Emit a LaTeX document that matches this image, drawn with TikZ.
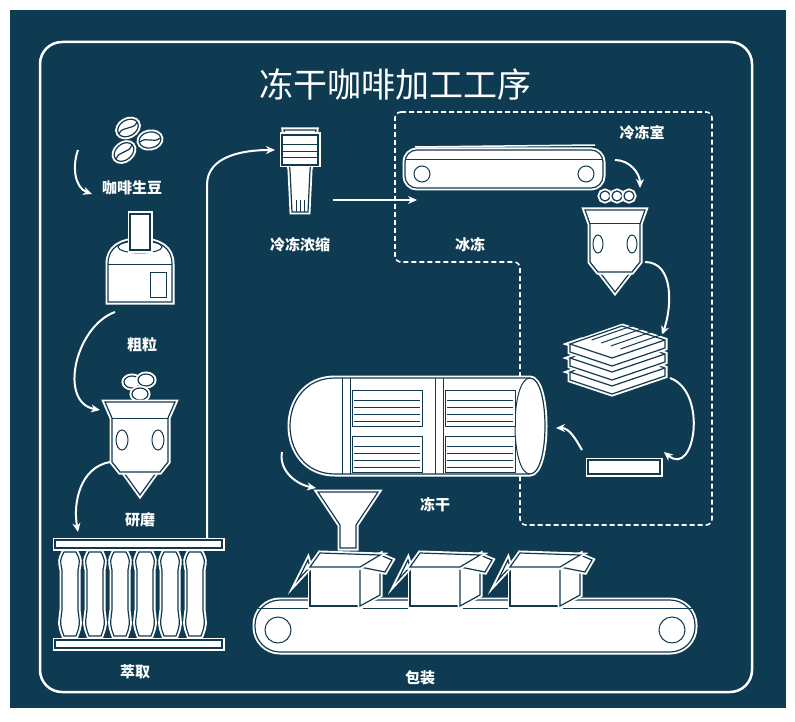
\documentclass[tikz,border=0pt]{standalone}
\usepackage{fontspec}
\setmainfont{Noto Sans CJK SC}
\usetikzlibrary{arrows.meta}
\definecolor{panel}{HTML}{0F3B52}
\definecolor{ink}{HTML}{123A4E}
\tikzset{
  lbl/.style={text=white, font=\fontsize{15}{15}\selectfont\bfseries},
  part/.style={fill=white, draw=ink, line width=1.2pt,
    preaction={draw=white, line width=5pt}},
  flow/.style={draw=white, line width=2pt, -{Stealth[length=9pt,width=8pt]}},
  zone/.style={draw=white, line width=1.6pt, dash pattern=on 5pt off 3pt},
  groove/.style={draw=ink, line width=1pt}
}
\begin{document}
\begin{tikzpicture}[x=1pt,y=-1pt]
\useasboundingbox (0,0) rectangle (795,722);
\fill[white] (0,0) rectangle (795,722);
\fill[panel] (10,10) rectangle (786,708);
\draw[white, line width=2.5pt, rounded corners=22pt] (40,42) rectangle (752,692);
\node[text=white, font=\fontsize{34}{34}\selectfont] (title) at (395,85) {冻干咖啡加工工序};
% coffee beans
\foreach \bx/\by/\ang in {128/128/30, 150/140/10, 124/152/40}
  \draw[part, rotate around={\ang:(\bx,\by)}] (\bx,\by) ellipse (11 and 8)
    (\bx-10,\by) .. controls (\bx-3,\by-4) and (\bx+3,\by+4) .. (\bx+10,\by);
\node[lbl] (beans) at (132,188) {咖啡生豆};
\coordinate (b1) at (78,150); \coordinate (b2) at (92,194);
\draw[flow] (b1) to[out=250,in=160] (b2);
% roaster
\draw[part] (108,302) -- (108,264) .. controls (108,248) and (120,240) .. (140,240)
  .. controls (160,240) and (172,248) .. (172,264) -- (172,302) -- cycle;
\draw[groove] (108,264) -- (172,264);
\draw[groove] (140,247) ellipse (22 and 6);
\draw[part] (130,214) rectangle (150,250);
\draw[groove] (150,272) rectangle (166,297);
\node[lbl] (rough) at (142,345) {粗粒};
\coordinate (r1) at (115,312); \coordinate (r2) at (100,410);
\draw[flow] (r1) to[out=200,in=170,looseness=1.1] (r2);
% grinder
\foreach \bx/\by in {132/382, 146/380, 140/394}
  \draw[part] (\bx,\by) ellipse (8 and 6);
\draw[part] (122,470) -- (140,495) -- (158,470) -- cycle;
\draw[part] (105,402) -- (175,402) -- (168,418) -- (168,462) -- (160,472) -- (120,472) -- (112,462) -- (112,418) -- cycle;
\draw[groove] (112,418) -- (168,418);
\draw[groove] (122,440) ellipse (6 and 10) (158,440) ellipse (6 and 10);
\node[lbl] (grind) at (140,520) {研磨};
\coordinate (g1) at (110,462); \coordinate (g2) at (78,532);
\draw[flow] (g1) to[out=190,in=100] (g2);
% extraction
\draw[part] (55,540) rectangle (222,548);
\draw[part] (55,640) rectangle (222,648);
\foreach \cx in {70,95,120,145,170,195}
  \draw[part] (\cx-6,552) .. controls (\cx-10,560) .. (\cx-8,570) -- (\cx-8,610)
    .. controls (\cx-10,625) .. (\cx-6,636) -- (\cx+6,636) .. controls (\cx+10,625) .. (\cx+8,610)
    -- (\cx+8,570) .. controls (\cx+10,560) .. (\cx+6,552) -- cycle;
\node[lbl] (extract) at (135,672) {萃取};
\coordinate (e1) at (207,538); \coordinate (e2) at (275,150);
\draw[flow] (e1) -- (207,185) to[out=90,in=180] (e2);
% concentrator
\draw[part] (290,170) -- (284,130) -- (316,130) -- (310,170) -- (308,212) -- (292,212) -- cycle;
\draw[part] (282,135) rectangle (318,165);
\draw[groove] (282,145) -- (318,145) (282,152) -- (318,152) (282,158) -- (318,158);
\draw[groove] (296,200) -- (296,212) (300,200) -- (300,212) (304,200) -- (304,212);
\node[lbl] (conc) at (300,245) {冷冻浓缩};
\coordinate (c1) at (333,200); \coordinate (c2) at (417,200);
\draw[flow] (c1) -- (c2);
% freezing zone
\draw[zone, rounded corners=6pt] (395,112) -- (712,112) -- (712,525) -- (520,525) -- (520,262) -- (395,262) -- cycle;
\node[lbl] (room) at (642,133) {冷冻室};
\node[lbl] (freeze) at (470,245) {冰冻};
\draw[part, rounded corners=12pt] (405,150) rectangle (603,188);
\draw[groove] (405,160) -- (603,160);
\draw[groove] (422,174) circle (8) (586,174) circle (8);
\draw[white, line width=1.5pt] (415,147) -- (595,145);
% second grinder
\foreach \bx in {605,617,629}
  \draw[part] (\bx,196) circle (5);
\draw[part] (598,270) -- (615,292) -- (632,270) -- cycle;
\draw[part] (585,210) -- (645,210) -- (640,224) -- (640,262) -- (632,272) -- (598,272) -- (590,262) -- (590,224) -- cycle;
\draw[groove] (590,224) -- (640,224);
\draw[groove] (598,244) ellipse (5 and 9) (632,244) ellipse (5 and 9);
\coordinate (f1) at (615,160); \coordinate (f2) at (640,188);
\draw[flow] (f1) to[out=0,in=90] (f2);
\coordinate (f3) at (645,262); \coordinate (f4) at (662,335);
\draw[flow] (f3) to[out=0,in=70] (f4);
% trays
\foreach \ty in {372,358,344}
  {\draw[part] (570,\ty) -- (570,\ty+8) -- (612,\ty+22) -- (665,\ty+4) -- (665,\ty-4) -- (622,\ty-18) -- (570,\ty) -- (612,\ty+14) -- (665,\ty-4);}
\foreach \tl in {0,6,12,18,24}
  \draw[groove] (582+\tl*1.6,337+\tl*0.5) -- (625+\tl*1.6,322+\tl*0.5);
\coordinate (t1) at (670,378); \coordinate (t2) at (664,452);
\draw[flow] (t1) to[out=-20,in=-40,looseness=1.4] (t2);
\draw[part] (588,460) rectangle (660,474);
\coordinate (t3) at (582,450); \coordinate (t4) at (556,428);
\draw[flow] (t3) to[out=120,in=0] (t4);
% drum
\draw[part] (335,378) -- (530,378) .. controls (550,378) and (550,474) .. (530,474) -- (335,474)
  .. controls (305,474) and (290,450) .. (290,426) .. controls (290,402) and (305,378) .. (335,378) -- cycle;
\draw[groove] (530,378) .. controls (510,378) and (510,474) .. (530,474);
\foreach \dx in {342,435}
  \draw[groove] (\dx,378) -- (\dx,474) (\dx+8,378) -- (\dx+8,474);
\foreach \px in {352,445}
  \foreach \py in {390,436}
    {\draw[groove, fill=white] (\px,\py) rectangle (\px+70,\py+36);
     \foreach \ly in {10,17,24,31} \draw[groove] (\px+2,\py+\ly) -- (\px+68,\py+\ly);}
\node[lbl] (dry) at (435,505) {冻干};
\coordinate (d1) at (282,452); \coordinate (d2) at (316,488);
\draw[flow] (d1) to[out=260,in=170] (d2);
% packaging
\draw[part, rounded corners=25pt] (255,600) rectangle (695,652);
\draw[groove] (258,608) -- (692,608);
\draw[groove] (278,630) circle (13) (672,630) circle (13);
\foreach \bx in {310,410,510}
  {\draw[part] (\bx,567) rectangle (\bx+50,606);
   \draw[part] (\bx+50,567) -- (\bx+70,555) -- (\bx+70,595) -- (\bx+50,606) -- cycle;
   \draw[part] (\bx,567) -- (\bx-12,580) -- (\bx-2,560) -- cycle;
   \draw[part] (\bx+50,567) -- (\bx+75,572) -- (\bx+82,560) -- (\bx+70,555) -- cycle;
   \draw[part] (\bx+10,553) -- (\bx+70,555) -- (\bx+50,567) -- (\bx,567) -- cycle;}
\draw[part] (318,492) -- (378,492) -- (356,525) -- (356,548) -- (340,548) -- (340,525) -- cycle;
\node[lbl] (pack) at (420,678) {包装};
\end{tikzpicture}
\end{document}
